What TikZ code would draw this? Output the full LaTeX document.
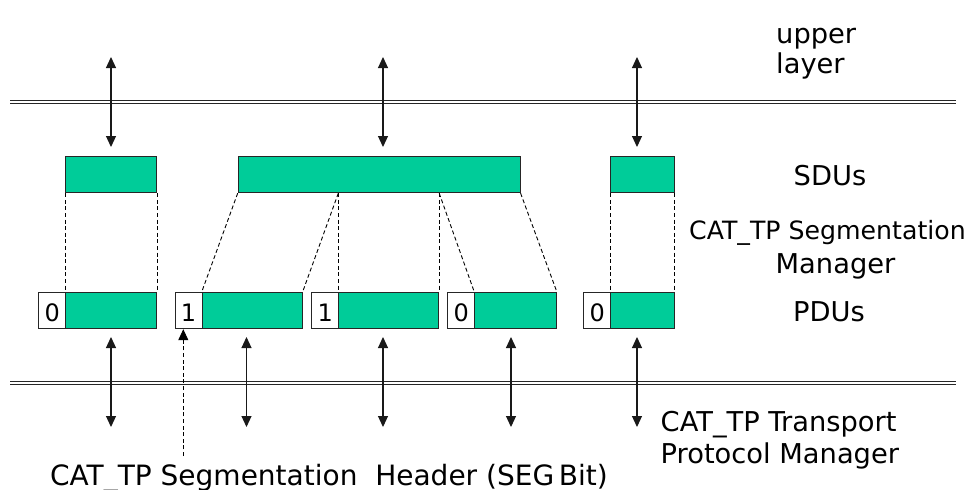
\documentclass[tikz,border=0pt]{standalone}
\usepackage{fontspec}
\setmainfont{DejaVu Sans}
\usetikzlibrary{arrows.meta}
\definecolor{segfill}{HTML}{00CC99}
\tikzset{
  x=1pt, y=-1pt,
  layerline/.style={draw=black!85, line width=1pt},
  databox/.style={draw=black!85, line width=0.9pt, fill=segfill, inner sep=0pt, anchor=north west, minimum height=36.3pt},
  hdrbox/.style={draw=black!85, line width=0.9pt, fill=white, inner sep=0pt, anchor=north west, minimum height=36.3pt, minimum width=27.2pt, font=\fontsize{24}{24}\selectfont, text height=21pt, text depth=0pt},
  maplink/.style={draw=black, line width=0.9pt, dash pattern=on 4pt off 2.6pt},
  dblarrow/.style={draw=black!90, line width=1.1pt, {Triangle[width=10pt,length=11pt]}-{Triangle[width=10pt,length=11pt]}},
  hdrarrow/.style={draw=black, line width=0.9pt, dash pattern=on 4pt off 2.6pt, -{Triangle[width=10pt,length=11pt]}},
  lbl/.style={inner sep=0pt, font=\fontsize{27.3}{30}\selectfont},
}
\begin{document}
\begin{tikzpicture}
\useasboundingbox (0,0) rectangle (975,490);

% layer boundaries (double lines)
\coordinate (ul1) at (10,100.2);
\coordinate (ul2) at (956,100.2);
\coordinate (ll1) at (10,381);
\coordinate (ll2) at (956,381);
\draw[layerline] (ul1) -- (ul2);
\draw[layerline] ([yshift=-3pt]ul1) -- ([yshift=-3pt]ul2);
\draw[layerline] (ll1) -- (ll2);
\draw[layerline] ([yshift=-3pt]ll1) -- ([yshift=-3pt]ll2);

% SDUs
\node[databox, minimum width=91pt] (s1) at (65.3,156) {};
\node[databox, minimum width=282pt] (s2) at (237.7,156) {};
\node[databox, minimum width=63.7pt] (s3) at (610.3,156) {};

% PDUs
\node[hdrbox] (h1) at (38.1,292) {0};
\node[databox, minimum width=91pt] (d1) at (65.3,292) {};
\node[hdrbox] (h2) at (174.5,292) {1};
\node[databox, minimum width=100pt] (d2) at (201.7,292) {};
\node[hdrbox] (h3) at (311.1,292) {1};
\node[databox, minimum width=100pt] (d3) at (338.3,292) {};
\node[hdrbox] (h4) at (447.1,292) {0};
\node[databox, minimum width=81.7pt] (d4) at (474.3,292) {};
\node[hdrbox] (h5) at (583.1,292) {0};
\node[databox, minimum width=63.7pt] (d5) at (610.3,292) {};

% segmentation mapping
\coordinate (c1) at (d3.north west |- s2.south);
\coordinate (c2) at (d3.north east |- s2.south);
\draw[maplink] (s1.south west) -- (d1.north west);
\draw[maplink] (s1.south east) -- (d1.north east);
\draw[maplink] (s2.south west) -- (d2.north west);
\draw[maplink] (c1) -- (d2.north east);
\draw[maplink] (c1) -- (d3.north west);
\draw[maplink] (c2) -- (d3.north east);
\draw[maplink] (c2) -- (d4.north west);
\draw[maplink] (s2.south east) -- (d4.north east);
\draw[maplink] (s3.south west) -- (d5.north west);
\draw[maplink] (s3.south east) -- (d5.north east);

% upper arrows
\coordinate (ta1) at (111,57);  \coordinate (tb1) at (111,147);
\coordinate (ta2) at (383,57);  \coordinate (tb2) at (383,147);
\coordinate (ta3) at (637,57);  \coordinate (tb3) at (637,147);
\draw[dblarrow] (ta1) -- (tb1);
\draw[dblarrow] (ta2) -- (tb2);
\draw[dblarrow] (ta3) -- (tb3);

% lower arrows
\coordinate (ba1) at (111,337);   \coordinate (bb1) at (111,427);
\coordinate (ba2) at (246.5,337); \coordinate (bb2) at (246.5,427);
\coordinate (ba3) at (383,337);   \coordinate (bb3) at (383,427);
\coordinate (ba4) at (511,337);   \coordinate (bb4) at (511,427);
\coordinate (ba5) at (637,337);   \coordinate (bb5) at (637,427);
\draw[dblarrow] (ba1) -- (bb1);
\draw[dblarrow] (ba2) -- (bb2);
\draw[dblarrow] (ba3) -- (bb3);
\draw[dblarrow] (ba4) -- (bb4);
\draw[dblarrow] (ba5) -- (bb5);

% header pointer
\coordinate (hp) at (183.3,456);
\draw[hdrarrow] (hp) -- (hp |- h2.south);

% labels
\node[lbl, anchor=base west] (up1) at (776,43) {upper};
\node[lbl, anchor=base west] (up2) at (776,73) {layer};
\node[lbl, anchor=base] (sdul) at (830,185) {SDUs};
\node[lbl, anchor=base west, font=\fontsize{25.2}{30}\selectfont] (sm1) at (689,239.3) {CAT\_TP Segmentation};
\node[lbl, anchor=base] (sm2) at (835.5,273) {Manager};
\node[lbl, anchor=base] (pdul) at (829,321.7) {PDUs};
\node[lbl, anchor=base west] (tp1) at (660.5,431.7) {CAT\_TP Transport};
\node[lbl, anchor=base west] (tp2) at (660.5,463.3) {Protocol Manager};
\node[lbl, anchor=base west, font=\fontsize{28}{30}\selectfont] (seg) at (50,485) {CAT\_TP Segmentation\ \ Header (SEG\,Bit)};
\end{tikzpicture}
\end{document}
